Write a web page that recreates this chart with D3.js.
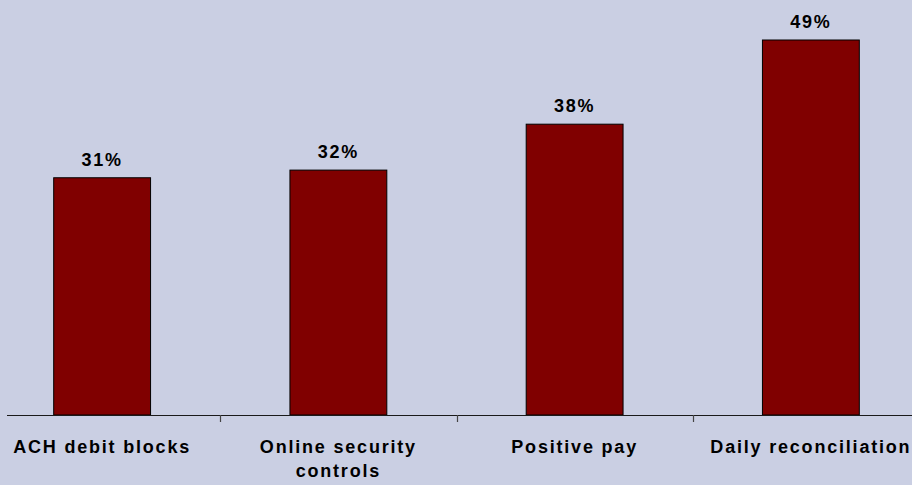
<!DOCTYPE html>
<html>
<head>
<meta charset="utf-8">
<script src="https://cdn.jsdelivr.net/npm/d3@7"></script>
<style>
  html, body { margin: 0; padding: 0; background: #CACFE3; }
  svg { display: block; }
  text { font-family: Arial, "Liberation Sans", sans-serif; font-weight: bold; font-size: 18px; letter-spacing: 1.8px; fill: #000; }
</style>
</head>
<body>
<svg id="chart" width="912" height="485"></svg>
<script>
// Share of respondents using each fraud-control practice (%)
const categories = ["ACH debit blocks", "Online security controls", "Positive pay", "Daily reconciliation"];
const labelLines = [["ACH debit blocks"], ["Online security", "controls"], ["Positive pay"], ["Daily reconciliation"]];
const values = [31, 32, 38, 49];

const W = 912, H = 485;
const baseY = 415;

const svg = d3.select("#chart");
svg.append("rect").attr("width", W).attr("height", H).attr("fill", "#CACFE3");

const x = d3.scaleBand()
  .domain(categories)
  .range([-16, 929])
  .paddingInner(0.59)
  .paddingOuter(0.295);

const y = d3.scaleLinear().domain([0, 49]).range([baseY, 40]);

// bars
svg.append("g").selectAll("rect")
  .data(categories)
  .join("rect")
  .attr("x", d => x(d))
  .attr("y", (d, i) => y(values[i]))
  .attr("width", x.bandwidth())
  .attr("height", (d, i) => y(0) - y(values[i]))
  .attr("fill", "#800000")
  .attr("stroke", "#000")
  .attr("stroke-width", 1);

// value labels
svg.append("g").selectAll("text")
  .data(categories)
  .join("text")
  .attr("x", d => x(d) + x.bandwidth() / 2)
  .attr("y", (d, i) => y(values[i]) - 12)
  .attr("text-anchor", "middle")
  .text((d, i) => values[i] + "%");

// category axis: baseline and boundary ticks between categories
const axis = svg.append("g");
axis.append("line")
  .attr("x1", 7).attr("x2", W)
  .attr("y1", y(0) + 0.5).attr("y2", y(0) + 0.5)
  .attr("stroke", "#1a1a1a").attr("stroke-width", 1.2);

const r0 = x.range()[0];
const step = x.step();
axis.selectAll("line.tick")
  .data(categories.slice(1))
  .join("line")
  .attr("class", "tick")
  .attr("x1", (d, i) => Math.round(r0 + (i + 1) * step) + 0.5)
  .attr("x2", (d, i) => Math.round(r0 + (i + 1) * step) + 0.5)
  .attr("y1", y(0))
  .attr("y2", y(0) + 7)
  .attr("stroke", "#444")
  .attr("stroke-width", 1.2);

// category labels
const lbl = axis.selectAll("text.cat")
  .data(categories)
  .join("text")
  .attr("class", "cat")
  .attr("text-anchor", "middle")
  .attr("y", 453);
lbl.each(function (d, i) {
  const cx = x(d) + x.bandwidth() / 2;
  d3.select(this).selectAll("tspan")
    .data(labelLines[i])
    .join("tspan")
    .attr("x", cx)
    .attr("dy", (t, j) => j === 0 ? 0 : 24)
    .text(t => t);
});
</script>
</body>
</html>
